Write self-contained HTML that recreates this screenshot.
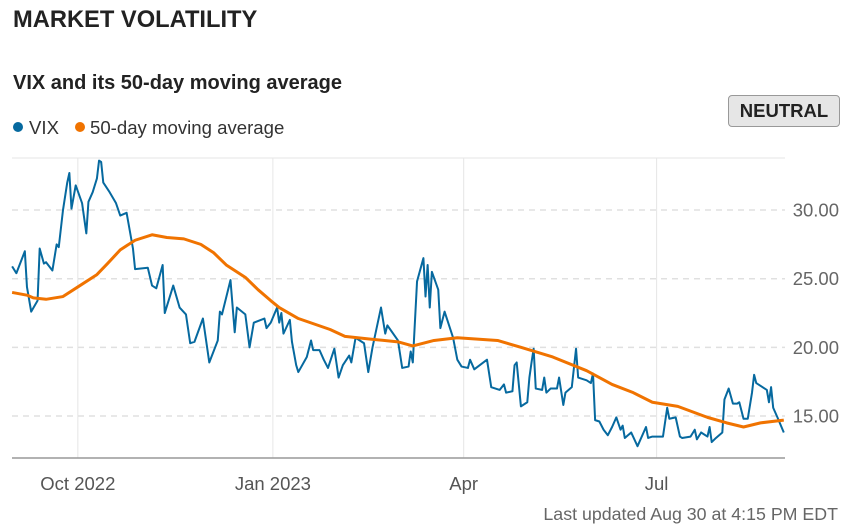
<!DOCTYPE html>
<html><head><meta charset="utf-8"><style>
body{margin:0;background:#fff;font-family:"Liberation Sans",Arial,sans-serif;}
#wrap{position:relative;width:861px;height:530px;overflow:hidden;}
.t{position:absolute;white-space:nowrap;}
</style></head><body>
<div id="wrap">
<div class="t" style="left:13px;top:7px;font-size:23.7px;font-weight:bold;color:#222;">MARKET VOLATILITY</div>
<div class="t" style="left:13px;top:72px;font-size:20px;font-weight:bold;color:#222;">VIX and its 50-day moving average</div>
<div class="t" style="left:13px;top:117px;font-size:18.6px;color:#333;"><span style="display:inline-block;width:10px;height:10px;border-radius:50%;background:#06699f;margin-right:6px;vertical-align:2px"></span>VIX</div>
<div class="t" style="left:75px;top:117px;font-size:18.6px;color:#333;"><span style="display:inline-block;width:10px;height:10px;border-radius:50%;background:#f07300;margin-right:5px;vertical-align:2px"></span>50-day moving average</div>
<div class="t" style="left:728px;top:95px;width:112px;height:32px;box-sizing:border-box;border:1px solid #999;border-radius:4px;background:#e6e6e6;font-size:18.5px;font-weight:bold;color:#222;text-align:center;line-height:30px;">NEUTRAL</div>
<div class="t" style="right:23px;top:504px;font-size:17.8px;color:#666;">Last updated Aug 30 at 4:15 PM EDT</div>
<svg id="chart" width="861" height="530" style="position:absolute;left:0;top:0"></svg>
</div>
<script>
const vixDays=[1,3,7,8,10,13,14,16,17,20,22,23,25,27,28,29,31,34,36,37,39,41,42,43,44,47,50,52,55,58,59,65,67,69,72,73,77,80,83,85,87,91,94,98,99,100,104,106,107,111,113,115,120,121,123,126,127,128,129,132,133,135,136,140,142,143,146,148,150,153,155,157,160,161,163,167,169,171,175,177,178,183,185,188,189,190,192,195,196,197,198,199,202,203,205,209,211,213,216,217,219,225,227,231,233,234,237,238,239,241,244,245,246,247,248,251,252,253,255,258,259,261,262,265,267,268,272,274,275,276,278,280,282,284,286,288,289,290,293,296,300,301,303,308,310,311,314,316,317,321,323,324,326,329,330,331,333,336,337,339,341,343,344,346,348,350,351,352,357,358,359,360,362,365];
const vixValues=[25.9,25.4,27,24.4,22.6,23.4,27.2,26.1,26.2,25.6,27.5,27.3,30,32,32.7,30.1,31.8,30.5,28.3,30.6,31.3,32.3,33.6,33.5,32,31.3,30.5,29.6,29.8,27.2,25.7,25.8,24.5,24.3,26,22.5,24.5,22.9,22.4,20.3,20.4,22.1,18.9,20.5,22.6,22.4,24.9,21.1,22.9,22.4,20,21.8,22.1,21.4,21.8,22.9,21.8,22.5,21,22,20.4,18.7,18.2,19.3,20.5,19.8,19.8,19.1,18.5,19.9,17.8,18.7,19.4,18.9,20.7,20.3,18.2,20,22.9,21,21.6,20.5,18.5,18.6,19.7,18.9,24.8,26.5,23.7,26,22.9,25.5,24.2,21.4,22.6,20.7,19.1,18.6,18.5,19.1,18.4,19.1,17.1,16.9,17.3,16.7,16.8,18.7,18.9,15.7,16,17.8,18.9,19.9,17,16.9,17.8,16.7,17,17,17.8,15.8,16.7,17.1,19.9,17.8,17.6,17.4,18.1,14.7,14.6,14,13.6,14.2,14.9,14,14.3,13.4,13.8,12.8,14.2,13.4,13.5,13.5,15.6,14.8,14.9,13.5,13.4,13.5,14,13.3,13.8,13.5,14.2,13.1,13.4,13.8,16.2,17,15.9,15.9,16,14.8,14.8,16.7,18,17.4,16.9,16,17.1,15.6,14.9,13.8];
const maDays=[1,8,11,17,25,32,41,46,52,59,67,74,82,90,96,102,111,117,123,127,136,151,158,170,183,190,200,211,230,241,256,272,284,294,303,315,329,338,346,354,365];
const maValues=[24,23.8,23.6,23.5,23.7,24.4,25.3,26.1,27.1,27.8,28.2,28,27.9,27.5,26.9,26,25.1,24.2,23.4,22.9,22.1,21.3,20.8,20.6,20.4,20.1,20.5,20.7,20.5,20,19.3,18.3,17.3,16.7,16,15.7,14.9,14.5,14.2,14.5,14.7];
const yTicks=[15,20,25,30];
const yTickLabels=["15.00","20.00","25.00","30.00"];
const xTickDays=[32,124,214,305];
const xTickLabels=["Oct 2022","Jan 2023","Apr","Jul"];

const NS="http://www.w3.org/2000/svg";
const svg=document.getElementById('chart');
const X=d=>10+d*2.12;
const Y=v=>416-(v-15)*13.73;
function mk(tag,attrs){const e=document.createElementNS(NS,tag);for(const k in attrs)e.setAttribute(k,attrs[k]);svg.appendChild(e);return e;}
let e=mk('line',{x1:12,x2:785,y1:158,y2:158,stroke:'#e6e6e6','stroke-width':1});


xTickDays.forEach((d,i)=>{
  const g=mk('line',{x1:X(d),x2:X(d),y1:158,y2:458,stroke:'#e6e6e6','stroke-width':1});
  
  
  const t=mk('text',{x:X(d),y:490,'text-anchor':'middle','font-size':18.5,fill:'#555','font-family':'Liberation Sans, sans-serif'});
  t.textContent=xTickLabels[i];
  
  
});
yTicks.forEach((v,i)=>{
  const g=mk('line',{x1:12,x2:785,y1:Y(v),y2:Y(v),stroke:'#e0e0e0','stroke-width':1.5,'stroke-dasharray':'6,5'});
  
  
  const t=mk('text',{x:839,y:Y(v)+6.5,'text-anchor':'end','font-size':18.5,fill:'#666','font-family':'Liberation Sans, sans-serif'});
  t.textContent=yTickLabels[i];
  
  
});
e=mk('line',{x1:12,x2:785,y1:458,y2:458,stroke:'#999','stroke-width':1.5});


const vp=mk('polyline',{points:vixDays.map((d,i)=>X(d)+','+Y(vixValues[i])).join(' '),fill:'none',stroke:'#06699f','stroke-width':2,'stroke-linejoin':'round'});


const mp=mk('polyline',{points:maDays.map((d,i)=>X(d)+','+Y(maValues[i])).join(' '),fill:'none',stroke:'#f07300','stroke-width':3,'stroke-linejoin':'round'});


</script>
</body></html>
